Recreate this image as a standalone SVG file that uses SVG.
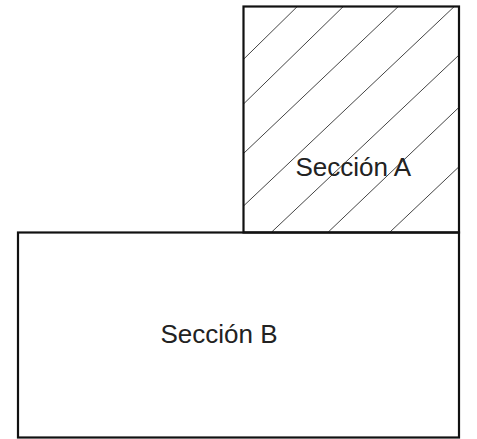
<svg xmlns="http://www.w3.org/2000/svg" width="477" height="439" viewBox="0 0 477 439">
<style>
.box{fill:none;stroke:#111;stroke-width:2.2}
.hatch{stroke:#444;stroke-width:1;fill:none}
.lbl{font-family:"Liberation Sans",Arial,sans-serif;font-size:26px;fill:#222}
</style>
<defs>
<clipPath id="clipA"><rect x="243.5" y="6.5" width="215.5" height="226"/></clipPath>
</defs>
<rect x="0" y="0" width="477" height="439" fill="#fff"/>
<g id="seccion-a">
<g class="hatch" clip-path="url(#clipA)">
<line x1="243.5" y1="59.3" x2="297.3" y2="6.5"/>
<line x1="243.5" y1="104" x2="343.3" y2="6.5"/>
<line x1="243.5" y1="153.5" x2="398.3" y2="6.5"/>
<line x1="243.5" y1="206" x2="454.3" y2="6.5"/>
<line x1="271.7" y1="232" x2="459" y2="55"/>
<line x1="328.3" y1="232" x2="459" y2="107.3"/>
<line x1="390" y1="232" x2="459" y2="166.7"/>
</g>
<rect class="box" x="243.5" y="6.5" width="215.5" height="226"/>
<text class="lbl" x="353.3" y="176" text-anchor="middle">Sección A</text>
</g>
<g id="seccion-b">
<rect class="box" x="18" y="232.5" width="441" height="205"/>
<text class="lbl" x="219" y="342.7" text-anchor="middle">Sección B</text>
</g>
<g id="connectors"/>
</svg>
